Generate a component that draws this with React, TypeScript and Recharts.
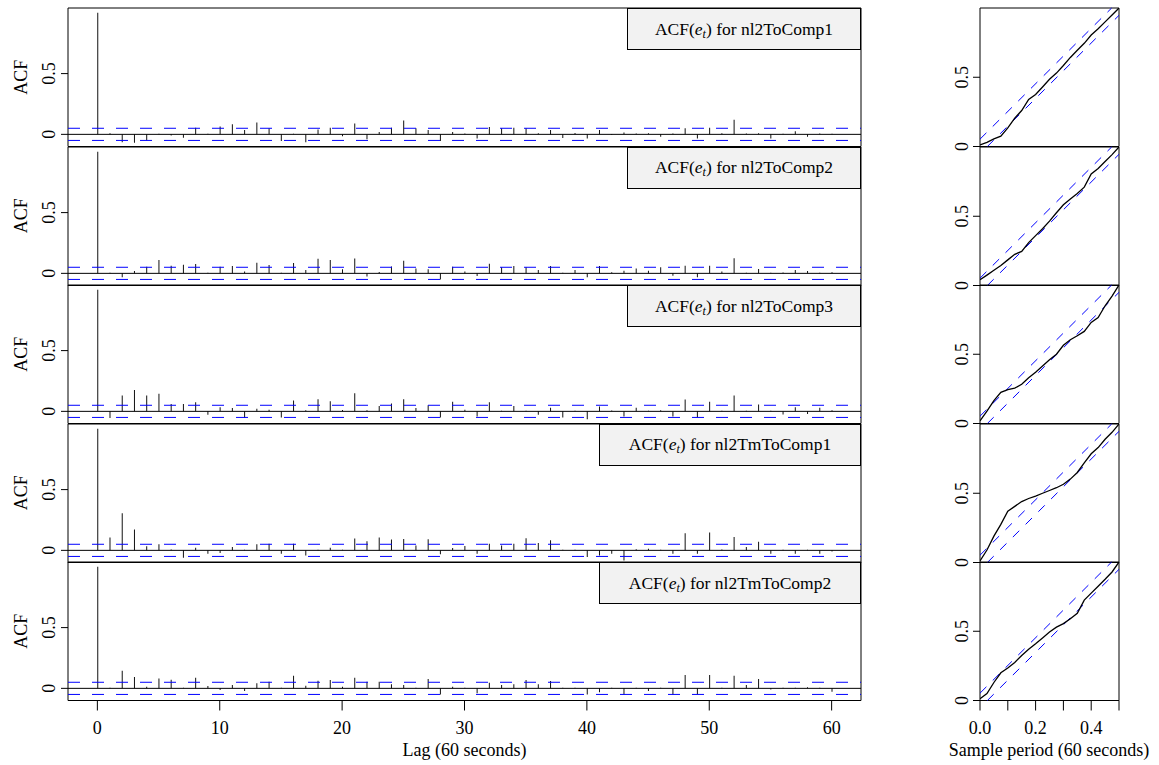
import React from 'react'
import { ComposedChart, Bar, Line, XAxis, YAxis, ReferenceLine, ReferenceArea } from 'recharts'

const FONT = '"Liberation Serif", "Times New Roman", serif'

// ACF lags 0..60
const lags = Array.from({ length: 61 }, (_, i) => i)
const lagTicks = [0, 10, 20, 30, 40, 50, 60]
const seriesNames = ['nl2ToComp1', 'nl2ToComp2', 'nl2ToComp3', 'nl2TmToComp1', 'nl2TmToComp2']

const acfComp1 = [1, 0.01, -0.065, -0.07, -0.05, 0.005, -0.01, -0.028, 0.055, 0.005, 0.064, 0.083, 0.036, 0.097, 0.05, -0.055, 0.004, -0.066, 0.04, 0.055, -0.015, 0.09, -0.04, 0.02, 0.055, 0.113, 0.05, 0.035, -0.055, 0.02, 0.008, -0.035, 0.06, 0.05, 0.055, 0.05, 0.01, 0.035, -0.03, 0.012, -0.035, 0.035, -0.005, 0.015, 0.008, 0.01, -0.02, 0.008, 0.05, -0.035, 0.055, 0.01, 0.12, 0.008, 0.01, -0.035, 0.005, 0.025, -0.02, 0.008, 0.004]
const acfComp2 = [1, 0.005, -0.033, 0.02, 0.055, 0.11, 0.063, 0.07, 0.077, 0.005, 0.055, 0.06, 0.016, 0.087, 0.068, 0.004, 0.085, 0.027, 0.12, 0.11, 0.033, 0.123, -0.025, 0.012, 0.057, 0.104, 0.04, 0.033, -0.05, 0.055, 0.016, -0.022, 0.08, 0.05, 0.06, 0.05, 0.027, 0.06, 0.005, 0.027, -0.033, 0.06, 0.01, 0.022, 0.04, 0.022, 0.05, -0.02, 0.063, -0.033, 0.063, 0.016, 0.125, 0.005, 0.035, 0.005, 0.008, 0.027, 0.02, 0.005, 0.01]
const acfComp3 = [1, -0.055, 0.13, 0.175, 0.13, 0.145, 0.06, 0.06, 0.075, -0.028, 0.033, 0.028, -0.055, 0.022, 0.014, -0.05, 0.09, 0.01, 0.1, 0.083, 0.012, 0.15, 0.01, 0.044, 0.064, 0.1, 0.028, 0.05, -0.05, 0.078, 0.014, -0.042, 0.075, 0.005, 0.045, 0.004, -0.028, 0.03, -0.05, 0.005, -0.064, 0.04, 0.008, -0.042, 0.03, 0.005, 0.01, -0.042, 0.097, -0.05, 0.078, 0.005, 0.13, 0.005, 0.056, 0.005, -0.025, 0.033, -0.022, 0.03, 0.01]
const acfTmComp1 = [1, 0.105, 0.305, 0.172, 0.033, 0.05, 0.006, -0.06, 0.022, -0.028, -0.022, 0.028, 0.004, 0.05, 0.055, -0.028, 0.055, -0.042, 0.004, 0.022, 0.005, 0.097, 0.075, 0.105, 0.089, 0.094, 0.039, 0.092, -0.033, 0.02, 0.036, -0.028, 0.055, 0.039, 0.055, 0.1, 0.06, 0.083, 0.005, 0.005, -0.055, -0.042, -0.028, -0.083, 0.01, 0.014, 0.005, -0.028, 0.14, -0.028, 0.147, 0.008, 0.11, 0.028, 0.07, -0.028, 0.005, -0.028, 0.005, -0.028, -0.01]
const acfTmComp2 = [1, 0.005, 0.145, 0.093, 0.014, 0.082, 0.071, 0.005, 0.087, 0.02, -0.014, 0.027, -0.022, 0.041, 0.055, 0.005, 0.104, 0.022, 0.063, 0.068, 0.014, 0.087, 0.055, 0.055, 0.033, 0.027, 0.005, 0.077, -0.05, 0.014, 0.005, -0.041, 0.047, 0.027, 0.033, 0.068, 0.033, 0.06, 0.005, 0.005, -0.05, -0.033, 0.005, -0.05, 0.005, -0.022, 0.005, -0.05, 0.11, -0.05, 0.11, 0.005, 0.104, 0.027, 0.077, -0.01, 0.005, 0.005, 0.01, 0.005, -0.027]
const acfValues = [acfComp1, acfComp2, acfComp3, acfTmComp1, acfTmComp2]
const acfCI = 0.05

// cumulative periodogram
const cpFreq = [0, 0.025, 0.05, 0.075, 0.1, 0.125, 0.15, 0.175, 0.2, 0.225, 0.25, 0.275, 0.3, 0.325, 0.35, 0.375, 0.4, 0.425, 0.45, 0.475, 0.5]
const cpComp1 = [0.012, 0.03, 0.055, 0.075, 0.135, 0.205, 0.26, 0.34, 0.375, 0.43, 0.485, 0.53, 0.585, 0.643, 0.695, 0.745, 0.805, 0.85, 0.9, 0.95, 1]
const cpComp2 = [0.041, 0.075, 0.11, 0.145, 0.185, 0.225, 0.246, 0.31, 0.36, 0.41, 0.465, 0.525, 0.583, 0.625, 0.665, 0.71, 0.805, 0.845, 0.895, 0.945, 1]
const cpComp3 = [0.019, 0.09, 0.165, 0.225, 0.245, 0.255, 0.283, 0.33, 0.37, 0.415, 0.46, 0.5, 0.565, 0.605, 0.634, 0.665, 0.73, 0.765, 0.85, 0.92, 1]
const cpTmComp1 = [0.012, 0.09, 0.19, 0.275, 0.37, 0.405, 0.44, 0.462, 0.48, 0.5, 0.52, 0.54, 0.565, 0.602, 0.65, 0.72, 0.785, 0.83, 0.89, 0.94, 1]
const cpTmComp2 = [0.012, 0.05, 0.13, 0.2, 0.235, 0.275, 0.325, 0.37, 0.41, 0.452, 0.495, 0.53, 0.555, 0.59, 0.63, 0.725, 0.775, 0.825, 0.875, 0.928, 1]
const cpValues = [cpComp1, cpComp2, cpComp3, cpTmComp1, cpTmComp2]
const cpCrit = 0.053
const cpTicks = [0, 0.1, 0.2, 0.3, 0.4, 0.5]

const ACF_X = [-2.4, 62.4]
const ACF_Y = [-0.1, 1.04]
const PANEL_TOP = 8
const PANEL_H = 138.5
const BLUE = '#0000ff'

const yTick = (baseX: number) => (props: any) => (
  <text
    transform={`translate(${baseX},${props.y}) rotate(-90)`}
    textAnchor="middle"
    fontSize={18}
    fontFamily={FONT}
    fill="#000"
  >
    {props.payload.value}
  </text>
)

const AcfPanel = ({ idx }: { idx: number }) => {
  const top = PANEL_TOP + idx * PANEL_H
  const last = idx === 4
  const data = lags.map((lag, i) => ({ lag, acf: acfValues[idx][i] }))
  const boxLeft = idx >= 3 ? 599 : 627
  return (
    <>
      <div style={{ position: 'absolute', left: 0, top: top - 5 }}>
        <ComposedChart width={870} height={PANEL_H + 10 + (last ? 50 : 0)} data={data}
          margin={{ top: 5, right: 9, bottom: 5, left: 38 }}>
          <XAxis type="number" dataKey="lag" domain={ACF_X} ticks={lagTicks} hide={!last} height={50}
            axisLine={false} tickSize={10} tickMargin={11} interval={0} allowDataOverflow
            tickLine={{ stroke: '#000' }} tick={{ fontSize: 18, fontFamily: FONT, fill: '#000' }} />
          <YAxis type="number" domain={ACF_Y} ticks={[0, 0.5]} width={30} axisLine={false} interval={0}
            tickSize={7} tickLine={{ stroke: '#000' }} tick={yTick(55)} allowDataOverflow />
          <ReferenceLine y={0} stroke="#000" />
          <ReferenceLine y={acfCI} stroke={BLUE} strokeDasharray="12 12" />
          <ReferenceLine y={-acfCI} stroke={BLUE} strokeDasharray="12 12" />
          <Bar dataKey="acf" fill="#111" barSize={1} isAnimationActive={false} />
          <ReferenceArea x1={ACF_X[0]} x2={ACF_X[1]} y1={ACF_Y[0]} y2={ACF_Y[1]}
            fill="none" stroke="#000" ifOverflow="visible" />
        </ComposedChart>
      </div>
      <div style={{
        position: 'absolute', left: boxLeft, top, width: 861 - boxLeft, height: 42,
        boxSizing: 'border-box', border: '1px solid #000', background: '#f2f2f2',
        display: 'flex', alignItems: 'center', justifyContent: 'center',
        fontFamily: FONT, fontSize: 17.5, color: '#000', whiteSpace: 'nowrap',
      }}>
        <span>ACF(<i>e</i><sub style={{ fontSize: 12, verticalAlign: '-3px', lineHeight: 0 }}><i>t</i></sub>) for {seriesNames[idx]}</span>
      </div>
    </>
  )
}

const CpPanel = ({ idx }: { idx: number }) => {
  const top = PANEL_TOP + idx * PANEL_H
  const last = idx === 4
  const data = cpFreq.map((f, i) => ({ f, p: cpValues[idx][i] }))
  return (
    <div style={{ position: 'absolute', left: 900, top: top - 5 }}>
      <ComposedChart width={240} height={PANEL_H + 10 + (last ? 50 : 0)} data={data}
        margin={{ top: 5, right: 21, bottom: 5, left: 50 }}>
        <XAxis type="number" dataKey="f" domain={[0, 0.5]} ticks={cpTicks} hide={!last} height={50}
          axisLine={false} tickSize={10} tickMargin={11} interval={0} allowDataOverflow
          tickFormatter={(v: number) => (Math.round(v * 10) % 2 === 0 ? v.toFixed(1) : '')}
          tickLine={{ stroke: '#000' }} tick={{ fontSize: 18, fontFamily: FONT, fill: '#000' }} />
        <YAxis type="number" domain={[0, 1]} ticks={[0, 0.5]} width={30} axisLine={false} interval={0}
          tickSize={7} tickLine={{ stroke: '#000' }} tick={yTick(68)} allowDataOverflow />
        <ReferenceLine segment={[{ x: 0, y: cpCrit }, { x: 0.5 - cpCrit / 2, y: 1 }]}
          stroke={BLUE} strokeDasharray="9 9" ifOverflow="visible" />
        <ReferenceLine segment={[{ x: cpCrit / 2, y: 0 }, { x: 0.5, y: 1 - cpCrit }]}
          stroke={BLUE} strokeDasharray="9 9" ifOverflow="visible" />
        <Line type="linear" dataKey="p" stroke="#000" strokeWidth={1.3} dot={false} isAnimationActive={false} />
        <ReferenceArea x1={0} x2={0.5} y1={0} y2={1} fill="none" stroke="#000" ifOverflow="visible" />
      </ComposedChart>
    </div>
  )
}

export default function App() {
  return (
    <div style={{ position: 'absolute', left: 0, top: 0, width: 1159, height: 765, background: '#fff', overflow: 'hidden' }}>
      {[0, 1, 2, 3, 4].map((i) => <AcfPanel key={'a' + i} idx={i} />)}
      {[0, 1, 2, 3, 4].map((i) => <CpPanel key={'c' + i} idx={i} />)}
      <svg width={1159} height={765} style={{ position: 'absolute', left: 0, top: 0, pointerEvents: 'none' }}>
        {[0, 1, 2, 3, 4].map((i) => (
          <text key={i} transform={`translate(27,${PANEL_TOP + i * PANEL_H + PANEL_H / 2}) rotate(-90)`}
            textAnchor="middle" fontSize={18} fontFamily={FONT} fill="#000">ACF</text>
        ))}
        <text x={464.5} y={756} textAnchor="middle" fontSize={18} fontFamily={FONT} fill="#000">Lag (60 seconds)</text>
        <text x={1049} y={756} textAnchor="middle" fontSize={18} fontFamily={FONT} fill="#000">Sample period (60 seconds)</text>
      </svg>
    </div>
  )
}
